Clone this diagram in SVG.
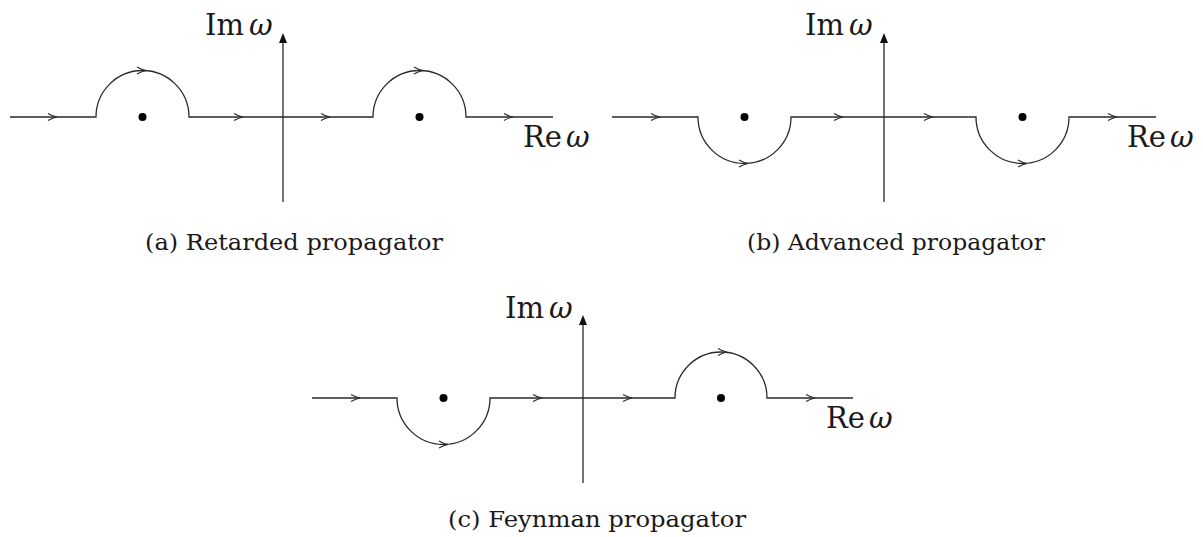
<svg xmlns="http://www.w3.org/2000/svg" xmlns:xlink="http://www.w3.org/1999/xlink" width="1203" height="537" viewBox="0 0 1203 537">
<style>
.contour{fill:none;stroke:#2a2a2a;stroke-width:1.3}
.axis{fill:none;stroke:#2a2a2a;stroke-width:1.3}
.chev{fill:none;stroke:#2a2a2a;stroke-width:1.1;stroke-linejoin:miter}
.pole{fill:#000}
.lab{font-family:"DejaVu Serif","Liberation Serif",serif;font-size:29px;fill:#1a1a1a}
.w{font-family:"DejaVu Serif","Liberation Serif",serif;font-size:29px;font-style:italic;fill:#1a1a1a}
.cap{font-family:"DejaVu Serif","Liberation Serif",serif;font-size:22px;fill:#1a1a1a}
</style>
<defs>
<path id="chev" class="chev" d="M-9,-3.5 Q-4,-0.6 0,0 Q-4,0.6 -9,3.5"/>
</defs>

<!-- Panel (a) -->
<g id="panel-a">
<g id="connectors-a">
<path class="axis" d="M283,202 V43"/>
<path d="M279,43 L283,33 L287,43 Z" fill="#111"/>
<path class="contour" d="M10,117 H96 A46.5,46.5 0 0 1 189,117 H373 A46.5,46.5 0 0 1 466,117 H553"/>
<use xlink:href="#chev" x="57" y="117"/>
<use xlink:href="#chev" x="146" y="70.5"/>
<use xlink:href="#chev" x="243" y="117"/>
<use xlink:href="#chev" x="330" y="117"/>
<use xlink:href="#chev" x="423" y="70.5"/>
<use xlink:href="#chev" x="513" y="117"/>
</g>
<g id="pole-a1"><circle class="pole" cx="142.5" cy="117" r="4"/></g>
<g id="pole-a2"><circle class="pole" cx="419.5" cy="117" r="4"/></g>
<g id="label-a-im"><text class="lab" x="205" y="35">Im</text><text class="w" x="249" y="35">ω</text></g>
<g id="label-a-re"><text class="lab" x="523" y="147">Re</text><text class="w" x="566" y="147">ω</text></g>
<g id="caption-a"><text class="cap" x="145" y="250" textLength="298" lengthAdjust="spacingAndGlyphs">(a) Retarded propagator</text></g>
</g>

<!-- Panel (b) -->
<g id="panel-b">
<g id="connectors-b">
<path class="axis" d="M884,202 V43"/>
<path d="M880,43 L884,33 L888,43 Z" fill="#111"/>
<path class="contour" d="M612,117 H698 A46.5,46.5 0 0 0 791,117 H976 A46.5,46.5 0 0 0 1069,117 H1156"/>
<use xlink:href="#chev" x="660" y="117"/>
<use xlink:href="#chev" x="748" y="163.5"/>
<use xlink:href="#chev" x="843" y="117"/>
<use xlink:href="#chev" x="933" y="117"/>
<use xlink:href="#chev" x="1027" y="163.5"/>
<use xlink:href="#chev" x="1117" y="117"/>
</g>
<g id="pole-b1"><circle class="pole" cx="744.5" cy="117" r="4"/></g>
<g id="pole-b2"><circle class="pole" cx="1022.5" cy="117" r="4"/></g>
<g id="label-b-im"><text class="lab" x="805" y="35">Im</text><text class="w" x="849" y="35">ω</text></g>
<g id="label-b-re"><text class="lab" x="1127" y="147">Re</text><text class="w" x="1170" y="147">ω</text></g>
<g id="caption-b"><text class="cap" x="747" y="250" textLength="298" lengthAdjust="spacingAndGlyphs">(b) Advanced propagator</text></g>
</g>

<!-- Panel (c) -->
<g id="panel-c">
<g id="connectors-c">
<path class="axis" d="M583,483 V325"/>
<path d="M579,325 L583,315 L587,325 Z" fill="#111"/>
<path class="contour" d="M312,398 H397 A46.5,46.5 0 0 0 490,398 H675 A46,46 0 0 1 767,398 H853"/>
<use xlink:href="#chev" x="360" y="398"/>
<use xlink:href="#chev" x="448" y="444.5"/>
<use xlink:href="#chev" x="542" y="398"/>
<use xlink:href="#chev" x="632" y="398"/>
<use xlink:href="#chev" x="727" y="352"/>
<use xlink:href="#chev" x="815" y="398"/>
</g>
<g id="pole-c1"><circle class="pole" cx="443.5" cy="398" r="4"/></g>
<g id="pole-c2"><circle class="pole" cx="721" cy="398" r="4"/></g>
<g id="label-c-im"><text class="lab" x="505" y="318">Im</text><text class="w" x="549" y="318">ω</text></g>
<g id="label-c-re"><text class="lab" x="826" y="428">Re</text><text class="w" x="869" y="428">ω</text></g>
<g id="caption-c"><text class="cap" x="448" y="527" textLength="298" lengthAdjust="spacingAndGlyphs">(c) Feynman propagator</text></g>
</g>
</svg>
